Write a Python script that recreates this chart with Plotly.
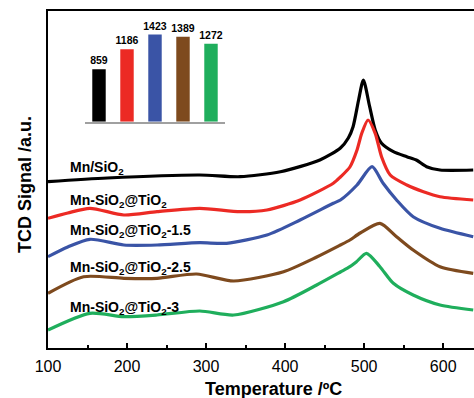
import plotly.graph_objects as go

FONT = "Liberation Sans, Arial, sans-serif"

# ---- TPR curves (temperature in °C, signal in arbitrary units) ----
t_mn = [100, 175, 292, 343, 394, 444, 470, 480, 486, 493, 499, 507, 514, 522, 537, 554, 566, 579, 596, 638]
s_mn = [166.3, 170, 173, 171.3, 176.3, 188, 200, 210, 221.3, 248, 268, 241.3, 218, 204.7, 196.3, 191.3, 188, 181.3, 178, 178]

t_ti = [100, 125, 153, 196, 238, 292, 343, 377, 419, 461, 470, 482, 491, 497, 505, 514, 522, 533, 554, 575, 596, 638]
s_ti = [129.7, 135, 139.7, 133, 136.3, 139.7, 136.3, 138, 148, 164.7, 171, 181, 198, 214.7, 228, 214.7, 191.3, 173, 163, 156.3, 151.3, 148]

t_15 = [100, 125, 153, 196, 238, 292, 326, 377, 419, 461, 470, 491, 510, 524, 541, 562, 596, 638]
s_15 = [91.3, 101, 108.7, 103, 103, 105.3, 104.7, 113, 128, 144.7, 148, 163, 181.3, 164.7, 148, 131.3, 119.7, 111.3]

t_25 = [100, 145, 196, 238, 288, 335, 398, 440, 470, 482, 495, 520, 541, 562, 596, 638]
s_25 = [54.7, 71.3, 69.7, 69.7, 74, 67, 76.3, 91, 103, 108, 115, 124.7, 111.3, 98, 81.3, 74.7]

t_3 = [100, 153, 196, 238, 292, 335, 398, 440, 470, 482, 490, 503, 520, 537, 562, 596, 638]
s_3 = [18, 34.7, 31.3, 33, 37, 33, 46.3, 63, 76, 81.3, 86, 94.7, 81.3, 64.7, 53, 43, 38]

labels = ["Mn/SiO<sub>2</sub>", "Mn-SiO<sub>2</sub>@TiO<sub>2</sub>",
          "Mn-SiO<sub>2</sub>@TiO<sub>2</sub>-1.5", "Mn-SiO<sub>2</sub>@TiO<sub>2</sub>-2.5",
          "Mn-SiO<sub>2</sub>@TiO<sub>2</sub>-3"]
label_y = [180, 147, 117, 80, 40]
colors = ["#000000", "#ec2a24", "#3a54a6", "#7e4a1e", "#1fae5c"]

# ---- inset bar chart ----
inset_cats = ["Mn/SiO2", "Mn-SiO2@TiO2", "Mn-SiO2@TiO2-1.5", "Mn-SiO2@TiO2-2.5", "Mn-SiO2@TiO2-3"]
inset_vals = [859, 1186, 1423, 1389, 1272]

x_tick_vals = [100, 200, 300, 400, 500, 600]

W, H = 474, 398
L, T, B = 48, 11, 50
PW, PH = W - L, H - T - B    # 426 x 337

fig = go.Figure()
curves = [(t_mn, s_mn), (t_ti, s_ti), (t_15, s_15), (t_25, s_25), (t_3, s_3)]
for (t, s), c in zip(curves, colors):
    fig.add_trace(go.Scatter(x=t, y=s, mode="lines",
                             line=dict(color=c, width=3.2, shape="spline", smoothing=0.7),
                             showlegend=False, hoverinfo="skip"))

fig.add_trace(go.Bar(x=inset_cats, y=inset_vals, marker=dict(color=colors, line=dict(width=0)),
                     width=0.48, text=[str(v) for v in inset_vals], textposition="outside",
                     textfont=dict(family=FONT, size=10.5, color="#000000"),
                     texttemplate="<b>%{text}</b>", cliponaxis=False, constraintext="none",
                     xaxis="x2", yaxis="y2", showlegend=False, hoverinfo="skip"))

for lab, ly in zip(labels, label_y):
    fig.add_annotation(x=125.7, y=ly, xref="x", yref="y", text="<b>" + lab + "</b>",
                       showarrow=False, xanchor="left", yanchor="middle",
                       font=dict(family=FONT, size=14, color="#000000"))

fig.add_annotation(x=(273 - 48) / PW, y=0, xref="paper", yref="paper",
                   text="<b>Temperature /ºC</b>", showarrow=False, yanchor="top", yshift=-29,
                   font=dict(family=FONT, size=18, color="#000000"))
fig.add_annotation(x=0, y=(348 - 185) / PH, xref="paper", yref="paper",
                   text="<b>TCD Signal /a.u.</b>", textangle=-90, showarrow=False,
                   xanchor="center", yanchor="middle", xshift=-23,
                   font=dict(family=FONT, size=18, color="#000000"))

fig.update_layout(
    width=W, height=H,
    margin=dict(l=L, r=0, t=T, b=B, pad=0),
    paper_bgcolor="white", plot_bgcolor="white",
    font=dict(family=FONT, color="#000000"),
    xaxis=dict(range=[100, 639], tickvals=x_tick_vals, ticks="inside", ticklen=5, tickwidth=1.5,
               tickcolor="#000000", showline=True, linecolor="#000000", linewidth=1.5,
               mirror=True, showgrid=False, zeroline=False, automargin=False,
               ticklabelstandoff=3,
               tickfont=dict(family=FONT, size=16, color="#000000"),
               tickprefix="<b>", ticksuffix="</b>",
               minor=dict(tick0=150, dtick=100, ticks="inside", ticklen=3, tickwidth=1.5,
                          tickcolor="#000000")),
    yaxis=dict(range=[0, 337], showticklabels=False, ticks="", showline=True,
               linecolor="#000000", linewidth=1.5, showgrid=False, zeroline=False,
               automargin=False),
    xaxis2=dict(domain=[(85 - 48) / PW, (225 - 48) / PW], anchor="y2", range=[-0.5, 4.5],
                showline=True, linecolor="#a0a0a0", linewidth=1.5, showticklabels=False,
                ticks="", showgrid=False, zeroline=False, automargin=False),
    yaxis2=dict(domain=[(348 - 121.7) / PH, (348 - 20) / PH], anchor="x2", range=[0, 1662],
                showline=False, showticklabels=False, ticks="", showgrid=False, zeroline=False,
                automargin=False),
    bargap=0.5,
)

fig.write_html("out.html", config={"displayModeBar": False},
               post_script="document.body.style.margin='0';document.body.style.overflow='hidden';")
